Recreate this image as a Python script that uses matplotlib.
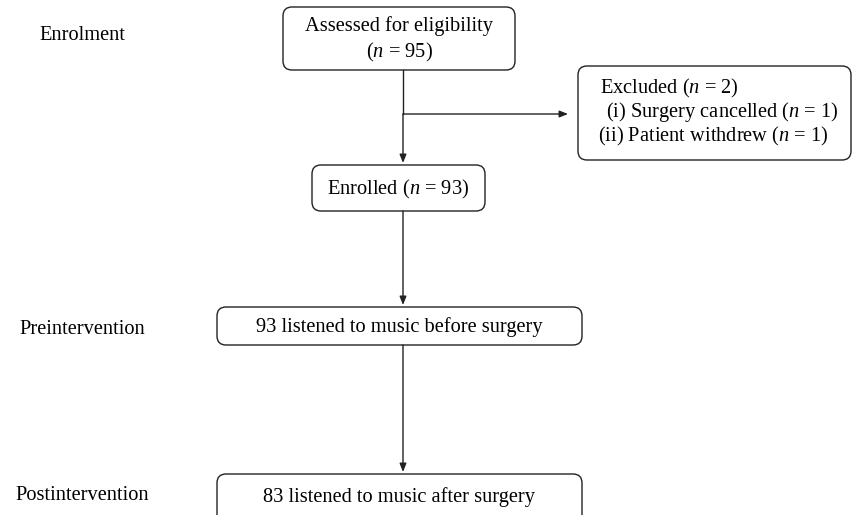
import matplotlib.pyplot as plt
from matplotlib.patches import FancyBboxPatch

plt.rcParams['font.family'] = 'Liberation Serif'
plt.rcParams['mathtext.fontset'] = 'custom'
plt.rcParams['mathtext.it'] = 'Liberation Serif:italic'
plt.rcParams['mathtext.rm'] = 'Liberation Serif'

# Flowchart content
stage_labels = ['Enrolment', 'Preintervention', 'Postintervention']
assessed = 95
enrolled = 93
excluded = 2
excluded_reasons = ['Surgery cancelled', 'Patient withdrew']
excluded_counts = [1, 1]
pre_count = 93
post_count = 83

fig = plt.figure(figsize=(8.53, 5.15), dpi=100)
ax = fig.add_axes([0, 0, 1, 1])
ax.set_xlim(0, 853)
ax.set_ylim(515, 0)
ax.axis('off')

fs = 14.7
EQ = ' = '


def box(x0, y0, x1, y1):
    p = FancyBboxPatch((x0, y0), x1 - x0, y1 - y0,
                       boxstyle='round,pad=0,rounding_size=9',
                       fc='white', ec='#222222', lw=1.0)
    ax.add_patch(p)


def arrow(x0, y0, x1, y1):
    ax.annotate('', xy=(x1, y1), xytext=(x0, y0),
                arrowprops=dict(arrowstyle='-|>,head_length=0.5,head_width=0.2',
                                color='#222222', lw=1.0, shrinkA=0, shrinkB=0))


def n_eq(v):
    return '($n$' + EQ + str(v) + ')'


# stage labels
ax.text(82, 35, stage_labels[0], ha='center', va='center', fontsize=fs)
ax.text(82, 330, stage_labels[1], ha='center', va='center', fontsize=fs)
ax.text(82, 496, stage_labels[2], ha='center', va='center', fontsize=fs)

# assessed box
box(283, 7, 515, 70)
ax.text(399, 26, 'Assessed for eligibility', ha='center', va='center', fontsize=fs)
ax.text(399, 52, n_eq(assessed), ha='center', va='center', fontsize=fs)

# lines / arrows
ax.plot([403, 403], [70, 114], color='#222222', lw=1.0)
arrow(403, 114, 403, 163)
arrow(403, 114, 568, 114)

# excluded box
box(578, 66, 851, 160)
ax.text(600, 88, 'Excluded ' + n_eq(excluded), ha='left', va='center', fontsize=fs)
ax.text(606, 112, '(i) %s ' % excluded_reasons[0] + n_eq(excluded_counts[0]),
        ha='left', va='center', fontsize=fs)
ax.text(598, 136, '(ii) %s ' % excluded_reasons[1] + n_eq(excluded_counts[1]),
        ha='left', va='center', fontsize=fs)

# enrolled box
box(312, 165, 485, 211)
ax.text(398, 189, 'Enrolled ' + n_eq(enrolled), ha='center', va='center', fontsize=fs)

arrow(403, 211, 403, 305)

# pre box
box(217, 307, 582, 345)
ax.text(399, 327, '%d listened to music before surgery' % pre_count,
        ha='center', va='center', fontsize=fs)

arrow(403, 345, 403, 472)

# post box
box(217, 474, 582, 530)
ax.text(399, 497, '%d listened to music after surgery' % post_count,
        ha='center', va='center', fontsize=fs)

fig.savefig('out.png', dpi=100)
